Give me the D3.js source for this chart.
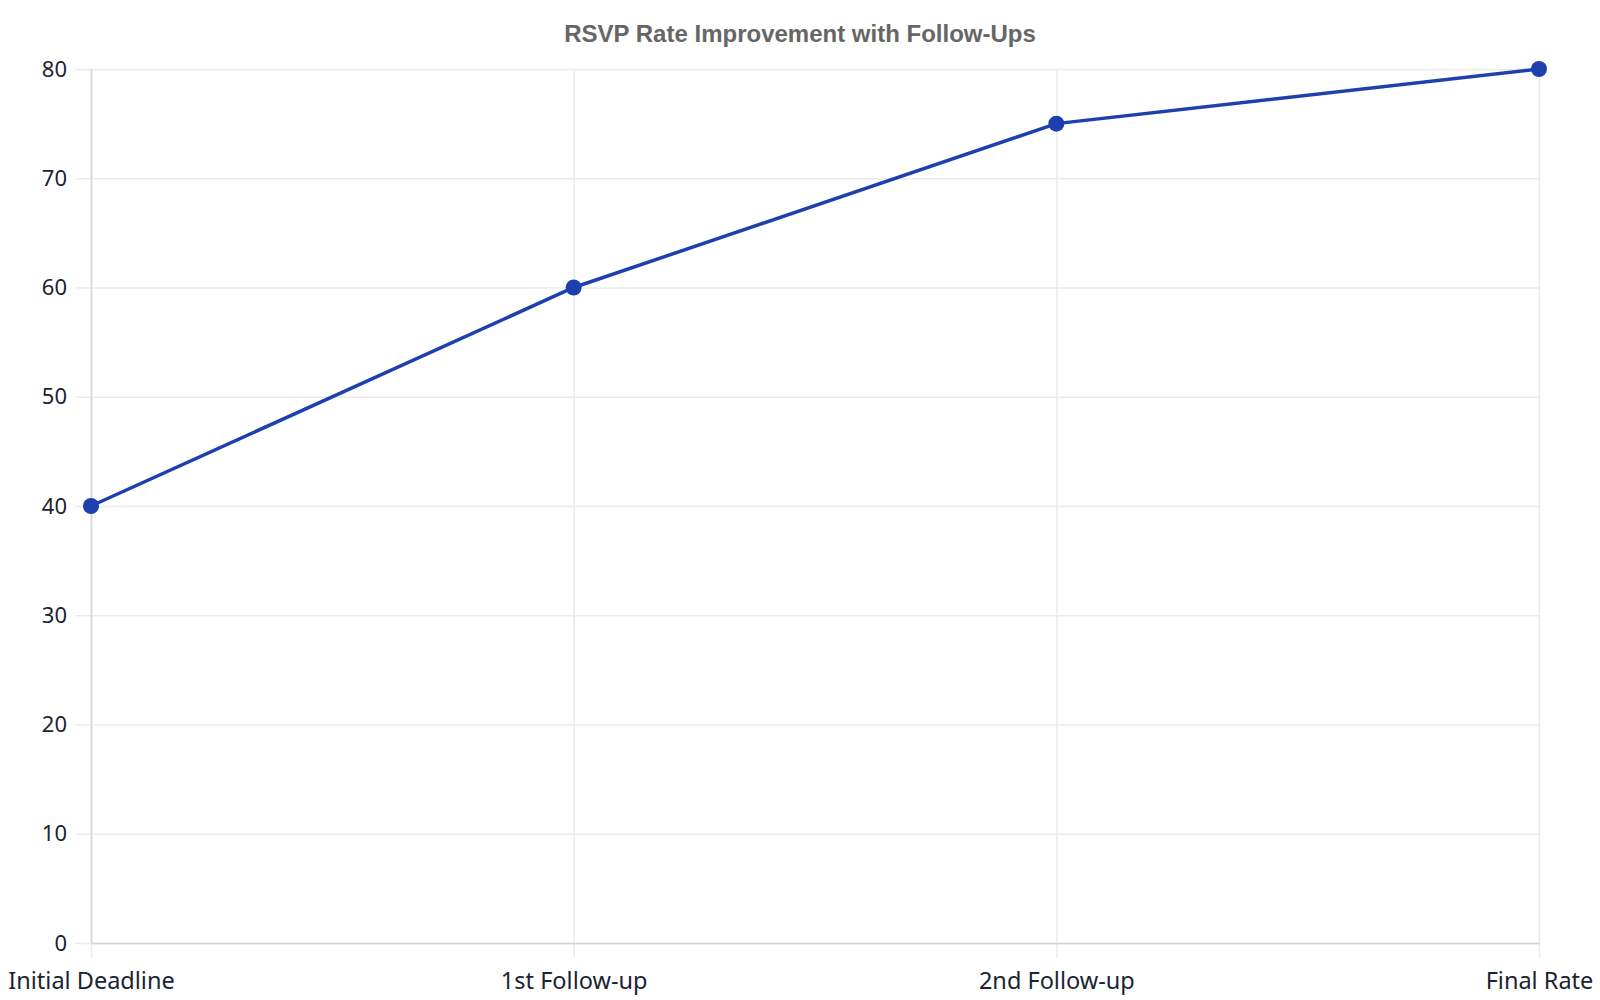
<!DOCTYPE html>
<html>
<head>
<meta charset="utf-8">
<script src="https://cdn.jsdelivr.net/npm/d3@7"></script>
<style>
  body { margin: 0; background: #fff; }
  svg { display: block; }
</style>
</head>
<body>
<div id="chart"></div>
<script>
const categories = ["Initial Deadline", "1st Follow-up", "2nd Follow-up", "Final Rate"];
const rsvpRates = [40, 60, 75, 80];
const yTicks = [0, 10, 20, 30, 40, 50, 60, 70, 80];

const W = 1600, H = 1000;
const margin = { top: 69, right: 61, bottom: 57, left: 91 };

const svg = d3.select("#chart").append("svg")
  .attr("width", W)
  .attr("height", H);

// title
svg.append("text")
  .attr("x", 800)
  .attr("y", 42)
  .attr("text-anchor", "middle")
  .attr("font-family", "Liberation Sans, Arial, sans-serif")
  .attr("font-weight", "bold")
  .attr("font-size", 24)
  .attr("fill", "#666")
  .text("RSVP Rate Improvement with Follow-Ups");

const x = d3.scalePoint()
  .domain(categories)
  .range([margin.left, W - margin.right]);

const y = d3.scaleLinear()
  .domain([0, 80])
  .range([H - margin.bottom, margin.top]);

// horizontal grid
svg.append("g")
  .attr("transform", `translate(${margin.left},0)`)
  .call(d3.axisLeft(y).tickValues(yTicks).tickSize(16).tickFormat(""))
  .call(g => g.select(".domain").remove())
  .call(g => g.selectAll(".tick line").clone()
    .attr("x2", W - margin.right - margin.left))
  .call(g => g.selectAll(".tick line").attr("stroke", "#ebebeb").attr("stroke-width", 1.5));

// vertical grid
svg.append("g")
  .attr("transform", `translate(0,${H - margin.bottom})`)
  .call(d3.axisBottom(x).tickSize(15).tickFormat(""))
  .call(g => g.select(".domain").remove())
  .call(g => g.selectAll(".tick line").clone()
    .attr("y2", -(H - margin.bottom - margin.top)))
  .call(g => g.selectAll(".tick line").attr("stroke", "#ebebeb").attr("stroke-width", 1.5));

// y axis line + labels
const yAxis = svg.append("g")
  .attr("transform", `translate(${margin.left},0)`)
  .call(d3.axisLeft(y).tickValues(yTicks).tickSize(0).tickPadding(24));
yAxis.select(".domain").attr("stroke", "#d4d4d4").attr("stroke-width", 1.5);
yAxis.selectAll("text")
  .attr("font-family", "Noto Sans, sans-serif")
  .attr("font-size", 22)
  .attr("fill", "#1b2433");

// x axis line + labels
const xAxis = svg.append("g")
  .attr("transform", `translate(0,${H - margin.bottom})`)
  .call(d3.axisBottom(x).tickSize(0).tickPadding(29));
xAxis.select(".domain").attr("stroke", "#d4d4d4").attr("stroke-width", 1.5);
xAxis.selectAll("text")
  .attr("font-family", "Noto Sans, sans-serif")
  .attr("font-size", 23.5)
  .attr("fill", "#1b2433");

const points = categories.map((c, i) => ({ cat: c, val: rsvpRates[i] }));

const line = d3.line()
  .x(d => x(d.cat))
  .y(d => y(d.val));

svg.append("path")
  .datum(points)
  .attr("fill", "none")
  .attr("stroke", "#1e40af")
  .attr("stroke-width", 3.5)
  .attr("d", line);

svg.append("g")
  .selectAll("circle")
  .data(points)
  .join("circle")
  .attr("cx", d => x(d.cat))
  .attr("cy", d => y(d.val))
  .attr("r", 8)
  .attr("fill", "#1e40af");
</script>
</body>
</html>
